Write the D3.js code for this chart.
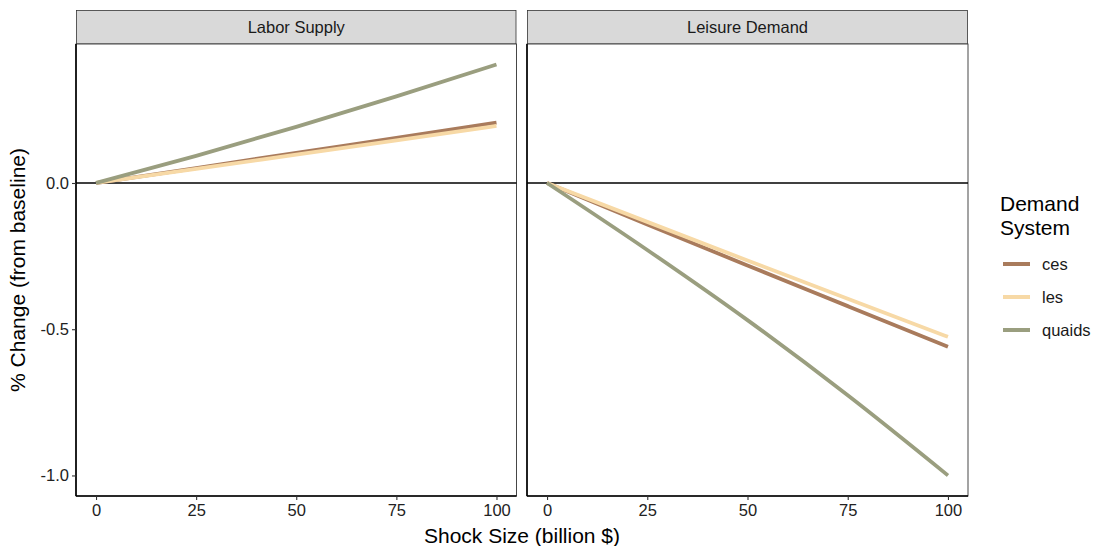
<!DOCTYPE html>
<html><head><meta charset="utf-8">
<script src="https://cdn.jsdelivr.net/npm/d3@7"></script>
<style>body{margin:0;background:#fff}svg{display:block}text{font-family:"Liberation Sans",Arial,sans-serif}</style>
</head><body><svg id="c" width="1096" height="546"></svg>
<script>
const panels = ["Labor Supply", "Leisure Demand"];
const systems = ["ces", "les", "quaids"];
const colors = ["#A97B5C", "#F7D9A6", "#9A9E7F"];
const shock = [0, 25, 50, 75, 100];
const xTicks = [0, 25, 50, 75, 100];
const yTicks = [-1.0, -0.5, 0.0];
// Labor Supply
const laborCes    = [0, 0.051, 0.103, 0.154, 0.206];
const laborLes    = [0, 0.048, 0.097, 0.146, 0.195];
const laborQuaids = [0, 0.093, 0.192, 0.296, 0.405];
// Leisure Demand
const leisureCes    = [0, -0.142, -0.282, -0.421, -0.560];
const leisureLes    = [0, -0.133, -0.265, -0.396, -0.526];
const leisureQuaids = [0, -0.229, -0.469, -0.726, -1.000];

const seriesByPanel = [
  [laborCes, laborLes, laborQuaids],
  [leisureCes, leisureLes, leisureQuaids]
];

const svg = d3.select("#c");
const panelX = [[76, 516.5], [527, 968]];
const pTop = 44, pBottom = 496, stripTop = 10.5;

const allVals = seriesByPanel.flat(2);
const ymin = d3.min(allVals), ymax = d3.max(allVals);
const yexp = (ymax - ymin) * 0.05;
const y = d3.scaleLinear().domain([ymin - yexp, ymax + yexp]).range([pBottom, pTop]);
const yFmt = d => d3.format(".1f")(d).replace("\u2212", "-");

panels.forEach((name, pi) => {
  const [x0, x1] = panelX[pi];
  const x = d3.scaleLinear().domain([-5, 105]).range([x0, x1]);
  const g = svg.append("g");
  // strip
  g.append("rect").attr("x", x0 + 0.5).attr("y", stripTop).attr("width", x1 - x0 - 1).attr("height", pTop - stripTop)
    .attr("fill", "#D9D9D9").attr("stroke", "#333").attr("stroke-width", 0.8);
  g.append("text").attr("x", (x0 + x1) / 2).attr("y", (stripTop + pTop) / 2).attr("dy", "0.35em")
    .attr("text-anchor", "middle").attr("font-size", 16.5).attr("fill", "#1a1a1a").text(name);
  // panel border
  g.append("rect").attr("x", x0).attr("y", pTop).attr("width", x1 - x0).attr("height", pBottom - pTop)
    .attr("fill", "#fff").attr("stroke", "#333").attr("stroke-width", 0.9);
  // zero line
  g.append("line").attr("x1", x0).attr("x2", x1).attr("y1", y(0)).attr("y2", y(0))
    .attr("stroke", "#000").attr("stroke-width", 1.3);
  // lines
  const line = d3.line().x((d, i) => x(shock[i])).y(d => y(d)).curve(d3.curveMonotoneX);
  seriesByPanel[pi].forEach((vals, si) => {
    g.append("path").datum(vals).attr("d", line).attr("fill", "none")
      .attr("stroke", colors[si]).attr("stroke-width", 3.8).attr("stroke-linecap", "butt");
  });
  // x axis
  const xa = g.append("g").attr("transform", `translate(0,${pBottom})`)
    .call(d3.axisBottom(x).tickValues(xTicks).tickSize(4).tickPadding(4).tickFormat(d3.format("d")));
  xa.select(".domain").attr("stroke", "#000").attr("stroke-width", 1.6).attr("d", `M${x0},0H${x1}`);
  xa.selectAll(".tick line").attr("stroke", "#333").attr("stroke-width", 1.1);
  xa.selectAll(".tick text").attr("font-size", 16.5).attr("fill", "#222").attr("font-family", "Liberation Sans, Arial, sans-serif");
  // y axis
  const ya = g.append("g").attr("transform", `translate(${x0},0)`);
  if (pi === 0) {
    ya.call(d3.axisLeft(y).tickValues(yTicks).tickSize(4).tickPadding(3).tickFormat(yFmt));
    ya.selectAll(".tick line").attr("stroke", "#333").attr("stroke-width", 1.1);
    ya.selectAll(".tick text").attr("font-size", 16.5).attr("fill", "#222").attr("font-family", "Liberation Sans, Arial, sans-serif");
  } else {
    ya.call(d3.axisLeft(y).tickValues([]).tickSize(0));
  }
  ya.select(".domain").attr("stroke", "#000").attr("stroke-width", 1.6).attr("d", `M0,${pTop}V${pBottom}`);
});

// axis titles
svg.append("text").attr("x", (76 + 968) / 2).attr("y", 543).attr("text-anchor", "middle")
  .attr("font-size", 21).attr("fill", "#000").text("Shock Size (billion $)");
svg.append("text").attr("transform", `translate(25,${(pTop + pBottom) / 2}) rotate(-90)`).attr("text-anchor", "middle")
  .attr("font-size", 21).attr("fill", "#000").text("% Change (from baseline)");

// legend
const lg = svg.append("g");
lg.append("text").attr("x", 1000).attr("y", 211).attr("font-size", 21).attr("fill", "#000").text("Demand");
lg.append("text").attr("x", 1000).attr("y", 235).attr("font-size", 21).attr("fill", "#000").text("System");
systems.forEach((s, i) => {
  const cy = 264 + i * 33;
  lg.append("line").attr("x1", 1003).attr("x2", 1030).attr("y1", cy).attr("y2", cy)
    .attr("stroke", colors[i]).attr("stroke-width", 4);
  lg.append("text").attr("x", 1042).attr("y", cy).attr("dy", "0.35em").attr("font-size", 16.5)
    .attr("fill", "#1a1a1a").text(s);
});
</script></body></html>
